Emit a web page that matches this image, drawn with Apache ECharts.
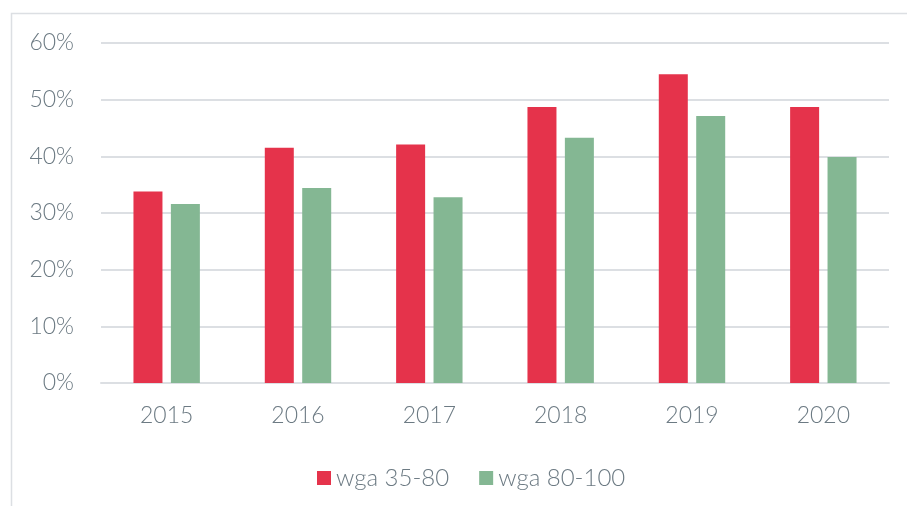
<!DOCTYPE html>
<html>
<head>
<meta charset="utf-8">
<script src="https://cdn.jsdelivr.net/npm/echarts@6/dist/echarts.min.js"></script>
<style>
  html, body { margin: 0; padding: 0; background: #fff; }
  #chart { width: 907px; height: 506px; }
</style>
</head>
<body>
<div id="chart"></div>
<script>
// data
const years = ["2015", "2016", "2017", "2018", "2019", "2020"];
const wga3580 = [0.338, 0.415, 0.421, 0.487, 0.545, 0.487];
const wga80100 = [0.316, 0.344, 0.328, 0.433, 0.471, 0.399];
const seriesNames = ["wga 35-80", "wga 80-100"];

const textColor = "#6c7a83";
const lineColor = "#dcdfe3";
const fontFamily = "Lato, 'Noto Sans', sans-serif";

const chart = echarts.init(document.getElementById("chart"), null, { renderer: "canvas" });

chart.setOption({
  animation: false,
  textStyle: { fontFamily: fontFamily },
  // outer frame of the original picture
  graphic: [
    {
      type: "rect",
      shape: { x: 11.5, y: 13.5, width: 1000, height: 1000 },
      style: { fill: "none", stroke: lineColor, lineWidth: 1.5 },
      silent: true,
    },
  ],
  grid: {
    left: 101,
    right: 18,
    top: 43,
    bottom: 123,
    containLabel: false,
  },
  legend: {
    data: seriesNames,
    left: 312,
    top: 461,
    icon: "rect",
    itemWidth: 14,
    itemHeight: 14,
    itemGap: 30,
    textStyle: { color: textColor, fontSize: 24, fontWeight: 300, fontFamily: fontFamily },
  },
  xAxis: {
    type: "category",
    data: years,
    axisLine: { show: true, lineStyle: { color: lineColor, width: 2 } },
    axisTick: { show: false },
    axisLabel: { color: textColor, fontSize: 23, fontWeight: 300, margin: 21, fontFamily: fontFamily },
  },
  yAxis: {
    type: "value",
    min: 0,
    max: 0.6,
    interval: 0.1,
    axisLine: { show: false },
    axisTick: { show: false },
    axisLabel: {
      color: textColor,
      fontSize: 23,
      fontWeight: 300,
      margin: 27,
      fontFamily: fontFamily,
      formatter: (v) => Math.round(v * 100) + "%",
    },
    splitLine: { lineStyle: { color: lineColor, width: 2 } },
  },
  series: [
    {
      name: seriesNames[0],
      type: "bar",
      data: wga3580,
      barWidth: 29,
      barGap: "29%",
      itemStyle: { color: "#e5334b" },
    },
    {
      name: seriesNames[1],
      type: "bar",
      data: wga80100,
      barWidth: 29,
      itemStyle: { color: "#84b793" },
    },
  ],
});
</script>
</body>
</html>
